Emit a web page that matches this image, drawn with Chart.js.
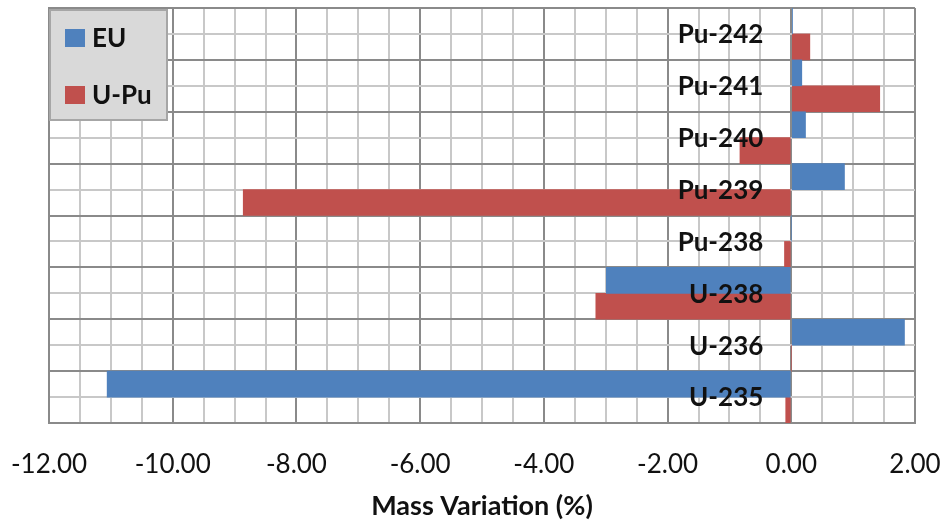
<!DOCTYPE html>
<html>
<head>
<meta charset="utf-8">
<script src="https://cdn.jsdelivr.net/npm/chart.js@4"></script>
<style>
  html, body { margin: 0; padding: 0; background: #fff; }
  #wrap { width: 943px; height: 523px; position: relative; }
</style>
</head>
<body>
<div id="wrap"><canvas id="chart"></canvas></div>
<script>
/* DATOS */
const isotopes = ["Pu-242", "Pu-241", "Pu-240", "Pu-239", "Pu-238", "U-238", "U-236", "U-235"];
const euValues = [0.02, 0.17, 0.23, 0.86, 0, -2.99, 1.83, -11.06];
const uPuValues = [0.30, 1.43, -0.83, -8.86, -0.11, -3.16, 0, -0.09];
const tickValues = [-12, -10, -8, -6, -4, -2, 0, 2];

const BLUE = "#4f81bd";
const RED = "#c0504d";
const GRID_MAJOR = "#8a8a8a";
const GRID_MINOR = "#c8c8c8";
const TEXT = "#111";

Chart.defaults.font.family = "Lato, 'Open Sans', sans-serif";
Chart.defaults.color = TEXT;

/* etiquetas de isotopos junto al eje cero */
const isotopeLabels = {
  id: "isotopeLabels",
  afterDatasetsDraw(chart) {
    const { ctx, scales } = chart;
    const x0 = scales.x.getPixelForValue(0);
    ctx.save();
    ctx.font = "bold 26px Lato, sans-serif";
    ctx.fillStyle = TEXT;
    ctx.textAlign = "right";
    ctx.textBaseline = "middle";
    chart.data.labels.forEach((label, i) => {
      ctx.fillText(label, x0 - 28, scales.y.getPixelForValue(i) + 1);
    });
    ctx.restore();
  }
};

/* leyenda con fondo gris arriba a la izquierda */
const boxLegend = {
  id: "boxLegend",
  afterDraw(chart) {
    const { ctx, chartArea } = chart;
    const x = chartArea.left + 1, y = chartArea.top + 2;
    ctx.save();
    ctx.fillStyle = "#d9d9d9";
    ctx.fillRect(x, y, 117, 110);
    ctx.strokeStyle = "#a6a6a6";
    ctx.lineWidth = 2;
    ctx.strokeRect(x, y, 117, 110);
    ctx.font = "bold 26px Lato, sans-serif";
    ctx.textBaseline = "middle";
    chart.data.datasets.forEach((ds, i) => {
      const cy = y + 28 + i * 57;
      ctx.fillStyle = ds.backgroundColor;
      ctx.fillRect(x + 15, cy - 9, 20, 18);
      ctx.fillStyle = TEXT;
      ctx.fillText(ds.label, x + 42, cy + 1);
    });
    ctx.restore();
  }
};

new Chart(document.getElementById("chart"), {
  type: "bar",
  data: {
    labels: isotopes,
    datasets: [
      { label: "EU", data: euValues, backgroundColor: BLUE },
      { label: "U-Pu", data: uPuValues, backgroundColor: RED }
    ]
  },
  options: {
    indexAxis: "y",
    responsive: true,
    maintainAspectRatio: false,
    animation: false,
    layout: { padding: { left: 49, right: 28, top: 8, bottom: 0 } },
    datasets: { bar: { barPercentage: 1, categoryPercentage: 1 } },
    plugins: {
      legend: { display: false },
      tooltip: { enabled: false }
    },
    scales: {
      x: {
        type: "linear",
        position: "bottom",
        min: -12,
        max: 2,
        afterFit: s => { s.height = 100; s.paddingLeft = 0; s.paddingRight = 0; },
        ticks: {
          stepSize: 0.5,
          autoSkip: false,
          maxRotation: 0,
          padding: 26,
          font: { size: 26 },
          color: TEXT,
          callback: v => tickValues.includes(v) ? v.toFixed(2) : ""
        },
        grid: {
          drawTicks: false,
          lineWidth: 2,
          color: c => (c.tick && c.tick.value % 2 === 0) ? GRID_MAJOR : GRID_MINOR
        },
        border: { color: GRID_MAJOR, width: 2 },
        title: {
          display: true,
          text: "Mass Variation (%)",
          font: { size: 27, weight: "bold" },
          color: TEXT,
          padding: { top: 0, bottom: 1 }
        }
      },
      y: {
        type: "category",
        position: "left",
        offset: true,
        afterFit: s => { s.width = 0; },
        ticks: { display: false },
        grid: { offset: true, drawTicks: false, lineWidth: 2, color: GRID_MAJOR },
        border: { color: GRID_MAJOR, width: 2 }
      },
      y2: {
        type: "category",
        position: "left",
        labels: isotopes,
        offset: true,
        afterFit: s => { s.width = 0; },
        ticks: { display: false },
        grid: { offset: false, drawTicks: false, lineWidth: 2, color: GRID_MINOR },
        border: { display: false }
      }
    }
  },
  plugins: [isotopeLabels, boxLegend]
});
</script>
</body>
</html>
